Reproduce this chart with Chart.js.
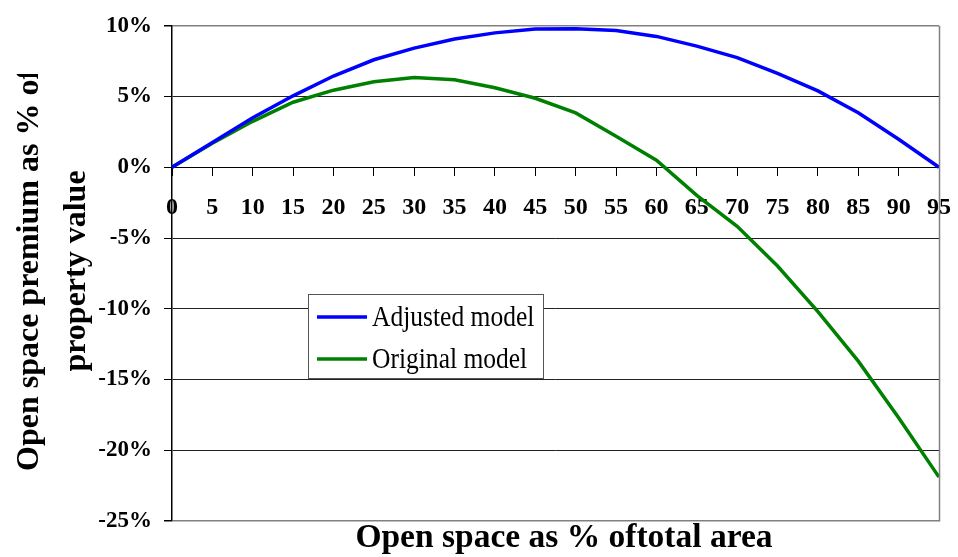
<!DOCTYPE html>
<html>
<head>
<meta charset="utf-8">
<script src="https://cdn.jsdelivr.net/npm/chart.js@4/dist/chart.umd.min.js"></script>
<style>
  html, body { margin: 0; padding: 0; background: #fff; }
  #wrap { width: 958px; height: 557px; }
</style>
</head>
<body>
<div id="wrap"><canvas id="c"></canvas></div>
<script>
// Open space share of total area (%)
const categories = ['0','5','10','15','20','25','30','35','40','45','50','55','60','65','70','75','80','85','90','95'];

// Open space premium as % of property value
const adjustedModel = [0, 1.75, 3.5, 5.05, 6.45, 7.6, 8.42, 9.07, 9.5, 9.77, 9.8, 9.67, 9.25, 8.56, 7.75, 6.63, 5.4, 3.85, 1.98, 0];
const originalModel = [0, 1.7, 3.25, 4.6, 5.45, 6.04, 6.35, 6.18, 5.62, 4.88, 3.84, 2.2, 0.5, -1.98, -4.17, -6.98, -10.2, -13.7, -17.7, -21.9];

const yTickValues = [10, 5, 0, -5, -10, -15, -20, -25];
const seriesNames = ['Adjusted model', 'Original model'];
const seriesColors = ['#0000ff', '#008000'];

const xTitle = 'Open space as % oftotal area';
const yTitleLines = ['Open space premium as % of', 'property value'];

const SERIF = '"Liberation Serif", "Times New Roman", Times, serif';

// Frame, inset legend and axis titles
const decor = {
  id: 'decor',
  afterDraw(chart) {
    const { ctx, chartArea: a } = chart;
    ctx.save();

    // right edge of the plot frame
    ctx.strokeStyle = '#808080';
    ctx.lineWidth = 1.5;
    ctx.beginPath();
    ctx.moveTo(a.right + 0.5, a.top);
    ctx.lineTo(a.right + 0.5, a.bottom + 0.5);
    ctx.stroke();

    // legend box
    const lx = 308.5, ly = 294.5, lw = 235, lh = 84;
    ctx.fillStyle = '#fff';
    ctx.fillRect(lx, ly, lw, lh);
    ctx.strokeStyle = '#555';
    ctx.lineWidth = 1;
    ctx.strokeRect(lx, ly, lw, lh);
    chart.data.datasets.forEach((ds, i) => {
      const cy = 317 + i * 42;
      ctx.strokeStyle = ds.borderColor;
      ctx.lineWidth = 3.5;
      ctx.beginPath();
      ctx.moveTo(317, cy);
      ctx.lineTo(367, cy);
      ctx.stroke();
      ctx.save();
      ctx.translate(372, cy + 1);
      ctx.scale(0.88, 1);
      ctx.font = '29px ' + SERIF;
      ctx.textAlign = 'left';
      ctx.textBaseline = 'middle';
      ctx.fillStyle = '#000';
      ctx.fillText(ds.label, 0, 0);
      ctx.restore();
    });

    // x axis title
    ctx.fillStyle = '#000';
    ctx.font = 'bold 33.5px ' + SERIF;
    ctx.textAlign = 'center';
    ctx.textBaseline = 'alphabetic';
    ctx.fillText(xTitle, 564, 547);

    // y axis title (two rotated lines, top clipped)
    ctx.save();
    ctx.beginPath();
    ctx.rect(0, 74, 110, 483);
    ctx.clip();
    ctx.font = 'bold 32px ' + SERIF;
    ctx.translate(30, 0);
    ctx.rotate(-Math.PI / 2);
    ctx.textBaseline = 'middle';
    ctx.textAlign = 'left';
    ctx.fillText(yTitleLines[0], -471, 0);
    ctx.textAlign = 'center';
    ctx.fillText(yTitleLines[1], -271, 47);
    ctx.restore();

    ctx.restore();
  }
};

new Chart(document.getElementById('c'), {
  type: 'line',
  data: {
    labels: categories,
    datasets: [
      { label: seriesNames[0], data: adjustedModel, borderColor: seriesColors[0], backgroundColor: seriesColors[0] },
      { label: seriesNames[1], data: originalModel, borderColor: seriesColors[1], backgroundColor: seriesColors[1] }
    ]
  },
  options: {
    responsive: true,
    maintainAspectRatio: false,
    animation: false,
    layout: { padding: { top: 20, right: 19, bottom: 36, left: 0 } },
    elements: {
      line: { borderWidth: 3.5, tension: 0 },
      point: { radius: 0, hoverRadius: 0 }
    },
    plugins: {
      legend: { display: false },
      tooltip: { enabled: false },
      title: { display: false }
    },
    scales: {
      x: {
        type: 'category',
        position: { y: 0 },
        offset: false,
        afterFit(scale) { scale.paddingLeft = 0; scale.paddingRight = 0; },
        grid: { display: true, drawOnChartArea: false, drawTicks: true, tickLength: 8, color: '#000', lineWidth: 1 },
        border: { display: true, color: '#000', width: 1 },
        ticks: {
          autoSkip: false,
          maxRotation: 0,
          minRotation: 0,
          padding: 18,
          color: '#000',
          font: { family: SERIF, size: 24, weight: 'bold' }
        }
      },
      y: {
        min: -25,
        max: 10,
        afterFit(scale) { scale.width = 172; },
        afterBuildTicks(scale) { scale.ticks = yTickValues.map(v => ({ value: v })); },
        grid: {
          drawTicks: true,
          tickLength: 8,
          color: c => (c.tick && (c.tick.value === 10 || c.tick.value === -25)) ? '#808080' : '#222',
          tickColor: '#000',
          lineWidth: c => (c.tick && (c.tick.value === 10 || c.tick.value === -25)) ? 1.5 : 1
        },
        border: { display: true, color: '#000', width: 1.5 },
        ticks: {
          padding: 12,
          color: '#000',
          font: { family: SERIF, size: 23, weight: 'bold' },
          callback: v => v + '%'
        }
      }
    }
  },
  plugins: [decor]
});
</script>
</body>
</html>
